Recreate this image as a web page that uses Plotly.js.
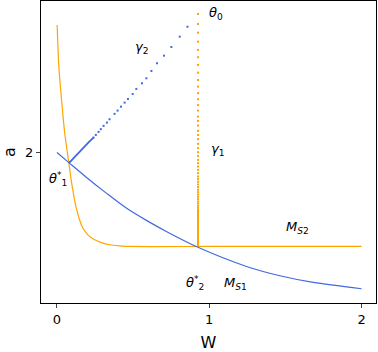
<!DOCTYPE html>
<html>
<head>
<meta charset="utf-8">
<script src="https://cdn.plot.ly/plotly-3.0.1.min.js"></script>
<style>body{margin:0;} #plot{width:378px;height:352px;}</style>
</head>
<body>
<div id="plot"></div>
<script>
// M_S1 curve (blue)
var ms1W = [0, 0.078, 0.192, 0.324, 0.455, 0.587, 0.718, 0.922, 1.245, 1.464, 1.683, 2.0];
var ms1A = [2.0, 1.893, 1.738, 1.568, 1.409, 1.278, 1.160, 0.994, 0.787, 0.688, 0.617, 0.550];

// M_S2 curve (orange)
var ms2W = [0.001, 0.012, 0.030, 0.051, 0.078, 0.093, 0.104, 0.115, 0.130, 0.148, 0.170, 0.203, 0.247, 0.301, 0.345, 0.411, 0.474, 1.0, 2.0];
var ms2A = [3.359, 2.915, 2.561, 2.206, 1.887, 1.710, 1.603, 1.497, 1.390, 1.284, 1.196, 1.124, 1.071, 1.036, 1.018, 1.007, 1.0, 1.0, 1.0];

// gamma_2 trajectory (blue dots)
var g2W = [0.857, 0.806, 0.751, 0.703, 0.657, 0.620, 0.587, 0.558, 0.521, 0.497, 0.466, 0.444, 0.420, 0.398, 0.378, 0.345, 0.328, 0.306, 0.288, 0.273, 0.255, 0.240];
var g2A = [3.340, 3.234, 3.124, 3.032, 2.951, 2.869, 2.791, 2.738, 2.678, 2.624, 2.571, 2.532, 2.489, 2.447, 2.412, 2.355, 2.319, 2.284, 2.249, 2.220, 2.188, 2.160];
var g2TailW = [0.240, 0.212, 0.078];
var g2TailA = [2.160, 2.117, 1.887];

// gamma_1 trajectory (orange dots)
var g1W = 0.926;
var g1A = [3.476, 3.369, 3.277, 3.181, 3.093, 3.015, 2.933, 2.851, 2.773, 2.702, 2.632, 2.568, 2.507, 2.447, 2.383, 2.337, 2.287, 2.231, 2.188, 2.143, 2.093, 2.047, 2.004, 1.965, 1.922, 1.887, 1.851, 1.816, 1.781, 1.745, 1.717, 1.689, 1.660, 1.632, 1.604, 1.579, 1.553, 1.529, 1.504, 1.479, 1.457, 1.433, 1.412, 1.391];
var g1TailA = [1.391, 1.369, 1.0];

var blue = '#4169E1', orange = '#FFA500';

var data = [
  {x: ms2W, y: ms2A, mode: 'lines', line: {color: orange, width: 1.2, shape: 'spline', smoothing: 0.6}},
  {x: ms1W, y: ms1A, mode: 'lines', line: {color: blue, width: 1.2, shape: 'spline', smoothing: 0.8}},
  {x: g2W, y: g2A, mode: 'markers', marker: {color: blue, size: 2, symbol: 'square'}},
  {x: g2TailW, y: g2TailA, mode: 'lines', line: {color: blue, width: 1.8}},
  {x: g1A.map(function () { return g1W; }), y: g1A, mode: 'markers', marker: {color: orange, size: 2, symbol: 'square'}},
  {x: g1TailA.map(function () { return g1W; }), y: g1TailA, mode: 'lines', line: {color: orange, width: 2}}
];

var f = {family: 'DejaVu Sans', size: 13, color: 'black'};
function ann(x, y, t) {
  return {x: x, y: y, xref: 'x', yref: 'y', text: t, showarrow: false, font: f};
}

var layout = {
  width: 378, height: 352,
  margin: {l: 41, r: 2, t: 1, b: 49},
  showlegend: false,
  plot_bgcolor: 'white', paper_bgcolor: 'white',
  font: f,
  xaxis: {
    range: [-0.105, 2.095], tickvals: [0, 1, 2], ticks: 'outside', ticklen: 4,
    showline: true, mirror: true, linecolor: 'black', linewidth: 1,
    showgrid: false, zeroline: false,
    title: {text: 'W', font: {family: 'DejaVu Sans', size: 16}, standoff: 14}
  },
  yaxis: {
    range: [0.398, 3.614], tickvals: [2], ticks: 'outside', ticklen: 4,
    showline: true, mirror: true, linecolor: 'black', linewidth: 1,
    showgrid: false, zeroline: false,
    title: {text: 'a', font: {family: 'DejaVu Sans', size: 16}, standoff: 6}
  },
  annotations: [
    ann(1.043, 3.476, '<i>θ</i><sub>0</sub>'),
    ann(0.556, 3.124, '<i>γ</i><sub>2</sub>'),
    ann(1.056, 2.029, '<i>γ</i><sub>1</sub>'),
    ann(0.005, 1.72, '<i>θ</i><sup>*</sup><sub>1</sub>'),
    ann(0.905, 0.614, '<i>θ</i><sup>*</sup><sub>2</sub>'),
    ann(1.174, 0.603, '<i>M</i><sub><i>S</i>1</sub>'),
    ann(1.582, 1.199, '<i>M</i><sub><i>S</i>2</sub>')
  ]
};

Plotly.newPlot('plot', data, layout, {staticPlot: true});
</script>
</body>
</html>
